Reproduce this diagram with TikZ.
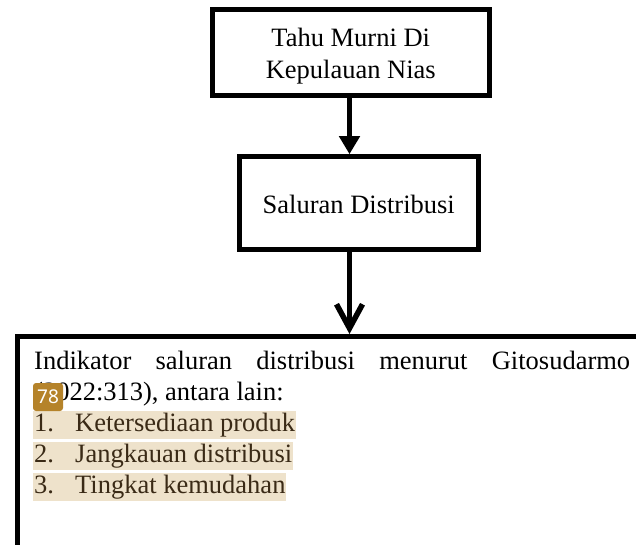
\documentclass[tikz,border=0pt]{standalone}
\usepackage{fontspec}
\setmainfont{Liberation Serif}
\newfontfamily\badgefont{Noto Sans}
\usetikzlibrary{arrows.meta}
\definecolor{hl}{HTML}{EEE2CB}
\definecolor{hltext}{HTML}{3A2A16}
\definecolor{badge}{HTML}{B5832A}
\begin{document}
\begin{tikzpicture}[x=1pt,y=-1pt, font=\fontsize{26.5}{32}\selectfont,
 box/.style={draw, line width=5pt, inner sep=0pt, align=center},
 conn/.style={line width=5.5pt},
 txt/.style={anchor=base west, inner sep=0pt},
 item/.style={anchor=base west, inner xsep=1pt, inner ysep=0pt, fill=hl, text=hltext, text height=20pt, text depth=8pt}]
\clip (0,0) rectangle (636,544);
\node[box, minimum width=276.5pt, minimum height=86pt] (b1) at (350.75,52) {\raisebox{-4pt}[\height][\depth]{\begin{tabular}{@{}c@{}}Tahu Murni Di\\Kepulauan Nias\end{tabular}}};
\node[box, minimum width=239.5pt, minimum height=92.3pt] (b2) at (358.75,202.85) {\raisebox{-2pt}[\height][\depth]{Saluran Distribusi}};
\node[box, line width=4.5pt, minimum width=690pt, minimum height=300pt, anchor=north west] (b3) at (15,334) {};
\coordinate (ax) at (349.5,0);
\draw[conn, -{Triangle[width=20pt,length=18pt]}] (ax |- b1.south) -- (ax |- b2.north);
\draw[conn, -{Straight Barb[width=26pt,length=24pt]}] (ax |- b2.south) -- (ax |- b3.north);
\node[txt] (l1) at (34,369) {\makebox[596pt][s]{Indikator saluran distribusi menurut Gitosudarmo}};
\node[txt] (l2) at (34,400) {(2022:313), antara lain:};
\node[item] (i1) at (33,431) {\makebox[41pt][l]{1.}Ketersediaan produk};
\node[item] (i2) at (33,462) {\makebox[41pt][l]{2.}Jangkauan distribusi};
\node[item] (i3) at (33,493) {\makebox[41pt][l]{3.}Tingkat kemudahan};
\node[fill=badge, rounded corners=3pt, minimum width=30pt, minimum height=28pt, inner sep=0pt, text=white, font=\badgefont\fontsize{19}{19}\selectfont] (bd) at (48,397) {78};
\end{tikzpicture}
\end{document}
